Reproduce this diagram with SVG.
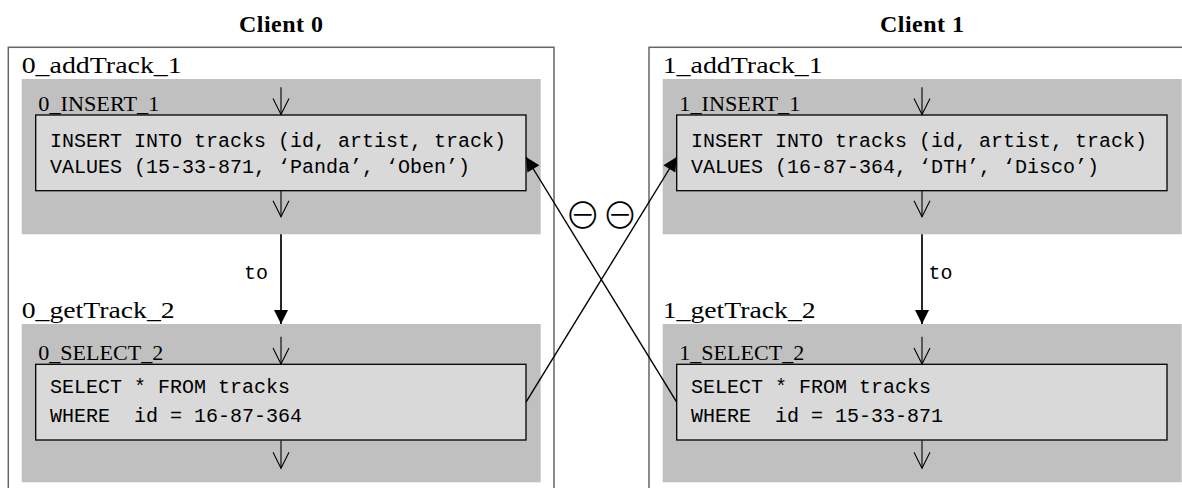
<svg xmlns="http://www.w3.org/2000/svg" width="1182" height="488" viewBox="0 0 1182 488">
  <defs>
    <style>
      .title { font-family: "Liberation Serif", serif; font-weight: bold; font-size: 24px; text-anchor: middle; }
      .client { fill: none; stroke: #666; stroke-width: 1.5; }
      .fn { font-family: "Liberation Serif", serif; font-size: 24px; }
      .stmt { font-family: "Liberation Serif", serif; font-size: 21px; }
      .block { fill: #c0c0c0; }
      .box { fill: #d9d9d9; stroke: #000; stroke-width: 1.3; }
      .code { font-family: "Liberation Mono", monospace; font-size: 20px; white-space: pre; }
      .flow { fill: none; stroke: #000; stroke-width: 1.1; marker-end: url(#open); }
      .edge { fill: none; stroke: #000; stroke-width: 1.7; marker-end: url(#solid); }
      .cross { fill: none; stroke: #000; stroke-width: 1.4; marker-end: url(#solid); }
      .sym { font-family: "Noto Sans CJK JP", "DejaVu Sans", sans-serif; font-weight: 300; font-size: 36px; text-anchor: middle; dominant-baseline: central; }
    </style>
    <!-- open "V" head for the control-flow ticks -->
    <marker id="open" markerUnits="userSpaceOnUse" markerWidth="20" markerHeight="20" refX="0" refY="0" orient="auto" overflow="visible">
      <path d="M-16,-8 L0,0 L-16,8" fill="none" stroke="#000" stroke-width="1.1"/>
    </marker>
    <!-- filled head for edges between blocks -->
    <marker id="solid" markerUnits="userSpaceOnUse" markerWidth="20" markerHeight="20" refX="0" refY="0" orient="auto" overflow="visible">
      <path d="M0,0 L-14,-7 L-14,7 z" fill="#000"/>
    </marker>
  </defs>

  <rect width="1182" height="488" fill="#fff"/>

  <!-- Client 0 -->
  <g id="client0">
    <text class="title" x="281" y="31.7" textLength="84">Client 0</text>
    <rect class="client" x="8.3" y="47.3" width="545.7" height="470"/>

    <g id="c0-addTrack">
      <text class="fn" x="21.7" y="73.3" textLength="160" lengthAdjust="spacingAndGlyphs">0_addTrack_1</text>
      <rect class="block" x="21.7" y="79" width="519" height="155.3"/>
      <g id="c0-insert">
        <text class="stmt" x="38.3" y="110.7" textLength="121" lengthAdjust="spacingAndGlyphs">0_INSERT_1</text>
        <rect class="box" x="35.7" y="115" width="490.3" height="75.7"/>
        <text class="code" x="50" y="146.6">INSERT INTO tracks (id, artist, track)</text>
        <text class="code" x="50" y="173.3">VALUES (15-33-871, ‘Panda’, ‘Oben’)</text>
      </g>
    </g>

    <g id="c0-getTrack">
      <text class="fn" x="21.7" y="318.2" textLength="153" lengthAdjust="spacingAndGlyphs">0_getTrack_2</text>
      <rect class="block" x="21.7" y="324" width="519" height="158.3"/>
      <g id="c0-select">
        <text class="stmt" x="38.3" y="360" textLength="125" lengthAdjust="spacingAndGlyphs">0_SELECT_2</text>
        <rect class="box" x="35.7" y="364.3" width="490.3" height="75.7"/>
        <text class="code" x="50" y="393.4">SELECT * FROM tracks</text>
        <text class="code" x="50" y="421.6" xml:space="preserve">WHERE  id = 16-87-364</text>
      </g>
    </g>
  </g>

  <!-- Client 1 -->
  <g id="client1">
    <text class="title" x="922" y="31.7" textLength="84">Client 1</text>
    <rect class="client" x="649" y="47.3" width="545.7" height="470"/>

    <g id="c1-addTrack">
      <text class="fn" x="662.7" y="73.3" textLength="160" lengthAdjust="spacingAndGlyphs">1_addTrack_1</text>
      <rect class="block" x="662.7" y="79" width="519" height="155.3"/>
      <g id="c1-insert">
        <text class="stmt" x="679.3" y="110.7" textLength="121" lengthAdjust="spacingAndGlyphs">1_INSERT_1</text>
        <rect class="box" x="676.7" y="115" width="490.3" height="75.7"/>
        <text class="code" x="691" y="146.6">INSERT INTO tracks (id, artist, track)</text>
        <text class="code" x="691" y="173.3">VALUES (16-87-364, ‘DTH’, ‘Disco’)</text>
      </g>
    </g>

    <g id="c1-getTrack">
      <text class="fn" x="662.7" y="318.2" textLength="153" lengthAdjust="spacingAndGlyphs">1_getTrack_2</text>
      <rect class="block" x="662.7" y="324" width="519" height="158.3"/>
      <g id="c1-select">
        <text class="stmt" x="679.3" y="360" textLength="125" lengthAdjust="spacingAndGlyphs">1_SELECT_2</text>
        <rect class="box" x="676.7" y="364.3" width="490.3" height="75.7"/>
        <text class="code" x="691" y="393.4">SELECT * FROM tracks</text>
        <text class="code" x="691" y="421.6" xml:space="preserve">WHERE  id = 15-33-871</text>
      </g>
    </g>
  </g>

  <!-- connectors -->
  <g id="connectors">
    <!-- entry / exit ticks of each statement -->
    <line class="flow" x1="281" y1="87.3" x2="281" y2="114.6"/>
    <line class="flow" x1="281" y1="191" x2="281" y2="216.7"/>
    <line class="flow" x1="281" y1="336.7" x2="281" y2="364"/>
    <line class="flow" x1="281" y1="440.4" x2="281" y2="468.3"/>
    <line class="flow" x1="922" y1="87.3" x2="922" y2="114.6"/>
    <line class="flow" x1="922" y1="191" x2="922" y2="216.7"/>
    <line class="flow" x1="922" y1="336.7" x2="922" y2="364"/>
    <line class="flow" x1="922" y1="440.4" x2="922" y2="468.3"/>

    <!-- sequential order inside each client -->
    <line class="edge" x1="281" y1="234.3" x2="281" y2="324"/>
    <text class="code" x="268" y="279" text-anchor="end">to</text>
    <line class="edge" x1="922" y1="234.3" x2="922" y2="324"/>
    <text class="code" x="928.5" y="279">to</text>

    <!-- cross-client dependencies -->
    <line class="cross" x1="526" y1="402.2" x2="676.7" y2="157"/>
    <line class="cross" x1="676.7" y1="402.2" x2="526" y2="157"/>
    <text class="sym" x="582.7" y="213">⊖</text>
    <text class="sym" x="620" y="213">⊖</text>
  </g>
</svg>
